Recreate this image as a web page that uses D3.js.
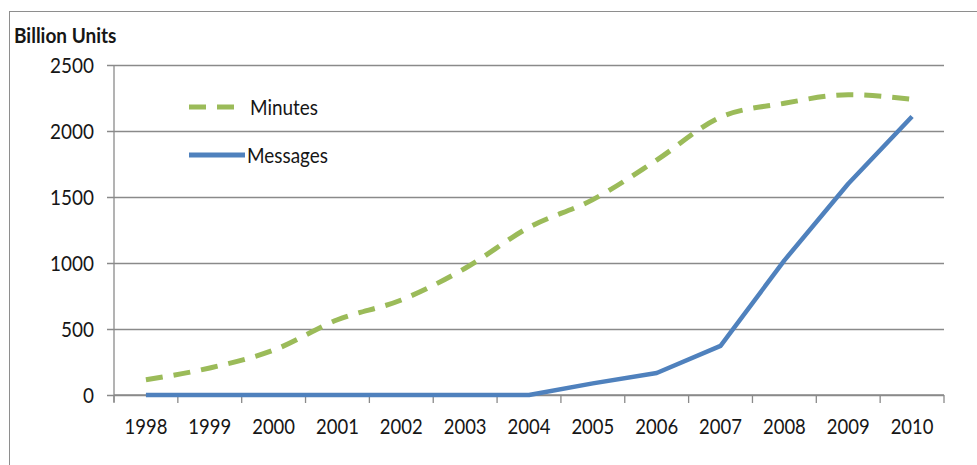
<!DOCTYPE html>
<html>
<head>
<meta charset="utf-8">
<script src="https://cdn.jsdelivr.net/npm/d3@7"></script>
<style>
  html, body { margin: 0; padding: 0; background: #fff; }
  svg { display: block; }
  text { font-family: Lato, "Open Sans", "Liberation Sans", sans-serif; fill: #161616; }
</style>
</head>
<body>
<svg id="chart" width="977" height="465"></svg>
<script>
// Yearly volumes, in billions of units
const years = ["1998","1999","2000","2001","2002","2003","2004","2005","2006","2007","2008","2009","2010"];
const minutes = [115, 205, 340, 570, 720, 960, 1270, 1480, 1780, 2105, 2210, 2275, 2240];
const messages = [0, 0, 0, 0, 0, 0, 0, 88, 167, 372, 1020, 1600, 2110];
const yTicks = [0, 500, 1000, 1500, 2000, 2500];
const seriesNames = ["Minutes", "Messages"];
const yTitle = "Billion Units";

const svg = d3.select("#chart");
const m = { left: 114, right: 944, top: 65, bottom: 395 };

// squeeze text horizontally to a narrow face
function narrow(sel, f) {
  sel.each(function () {
    const len = this.getComputedTextLength();
    d3.select(this).attr("textLength", len * f).attr("lengthAdjust", "spacingAndGlyphs");
  });
}

// outer frame (runs past the right and bottom edges)
svg.append("rect")
  .attr("x", 9.5).attr("y", 11.5)
  .attr("width", 1000).attr("height", 480)
  .attr("fill", "#fff").attr("stroke", "#8e8e8e").attr("stroke-width", 1);

const x = d3.scaleBand().domain(years).range([m.left, m.right]).padding(0);
const y = d3.scaleLinear().domain([0, 2500]).range([m.bottom, m.top]);

// horizontal gridlines with left tick marks
const yAxis = d3.axisLeft(y).tickValues(yTicks).tickSize(-(m.right - m.left)).tickPadding(20).tickFormat(d3.format("d"));
const gy = svg.append("g").attr("transform", `translate(${m.left},0)`).call(yAxis);
gy.select(".domain").remove();
gy.selectAll(".tick line").attr("x1", -7).attr("stroke", "#8a8a8a").attr("stroke-width", 1.3);
gy.selectAll(".tick text")
  .attr("font-size", 22).attr("x", -20).attr("dy", "0.36em")
  .attr("font-family", "Lato, sans-serif").attr("fill", "#161616")
  .call(narrow, 0.86);

// vertical axis line
svg.append("line")
  .attr("x1", m.left).attr("x2", m.left)
  .attr("y1", m.top).attr("y2", m.bottom + 7)
  .attr("stroke", "#8a8a8a").attr("stroke-width", 1.3);

// category axis: ticks sit on band edges
const gx = svg.append("g").attr("transform", `translate(0,${m.bottom})`);
gx.append("line")
  .attr("x1", m.left).attr("x2", m.right)
  .attr("stroke", "#8a8a8a").attr("stroke-width", 1.6);
const edges = years.map(d => x(d)).concat([x(years[years.length - 1]) + x.bandwidth()]);
gx.selectAll("line.edge").data(edges).enter().append("line")
  .attr("class", "edge")
  .attr("x1", d => d).attr("x2", d => d)
  .attr("y1", 0).attr("y2", 8)
  .attr("stroke", "#8a8a8a").attr("stroke-width", 1.3);
gx.selectAll("text").data(years).enter().append("text")
  .attr("x", d => x(d) + x.bandwidth() / 2)
  .attr("y", 39)
  .attr("text-anchor", "middle")
  .attr("font-size", 22)
  .text(d => d)
  .call(narrow, 0.84);

// title
svg.append("text")
  .attr("x", 14).attr("y", 43)
  .attr("font-size", 20).attr("font-weight", "bold")
  .text(yTitle)
  .call(narrow, 0.95);

const cx = d => x(d) + x.bandwidth() / 2;
const smooth = d3.line().x((d, i) => cx(years[i])).y(d => y(d)).curve(d3.curveMonotoneX);
const straight = d3.line().x((d, i) => cx(years[i])).y(d => y(d));

svg.append("path")
  .datum(minutes)
  .attr("d", smooth)
  .attr("fill", "none")
  .attr("stroke", "#9bbb59")
  .attr("stroke-width", 5)
  .attr("stroke-dasharray", "17,11");

svg.append("path")
  .datum(messages)
  .attr("d", straight)
  .attr("fill", "none")
  .attr("stroke", "#4f81bd")
  .attr("stroke-width", 4.5)
  .attr("stroke-linejoin", "round");

// legend
const legend = svg.append("g");
const items = [
  { name: seriesNames[0], color: "#9bbb59", dash: "17,11", yy: 107, x2: 240, tx: 250 },
  { name: seriesNames[1], color: "#4f81bd", dash: null, yy: 155, x2: 245, tx: 247 }
];
items.forEach(it => {
  legend.append("line")
    .attr("x1", 189).attr("x2", it.x2)
    .attr("y1", it.yy).attr("y2", it.yy)
    .attr("stroke", it.color).attr("stroke-width", 5)
    .attr("stroke-dasharray", it.dash);
  legend.append("text")
    .attr("x", it.tx).attr("y", it.yy)
    .attr("dy", "0.36em")
    .attr("font-size", 22)
    .text(it.name)
    .call(narrow, 0.86);
});
</script>
</body>
</html>
